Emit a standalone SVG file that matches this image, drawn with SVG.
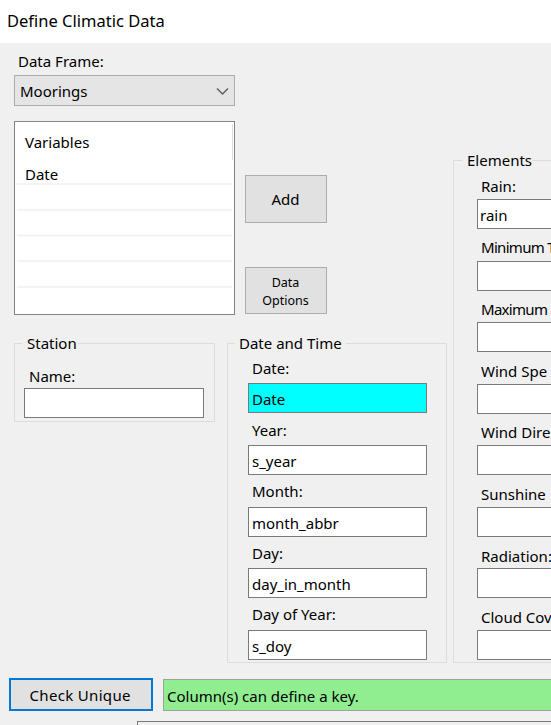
<svg xmlns="http://www.w3.org/2000/svg" width="551" height="725" viewBox="0 0 551 725">
<style>
text{font-family:"Noto Sans","Open Sans",sans-serif;font-size:15px;fill:#000}
.title{font-size:16.5px}
.btn{fill:#e1e1e1;stroke:#adadad;stroke-width:1}
.tb{fill:#fff;stroke:#7a7a7a;stroke-width:1}
.grp{fill:none;stroke:#dcdcdc;stroke-width:1}
.gt{fill:#f0f0f0}
.sep{stroke:#f0f0f0;stroke-width:1.5}
.small{font-size:12.5px}
.tight{letter-spacing:-0.7px}
</style>
<rect x="0" y="0" width="551" height="43" fill="#fff"/>
<rect x="0" y="43" width="551" height="682" fill="#f0f0f0"/>
<text id="title" class="title" x="7" y="27">Define Climatic Data</text>

<g id="dataframe">
<text x="18" y="67">Data Frame:</text>
<rect x="14.5" y="75.5" width="220" height="30" fill="#e5e5e5" stroke="#adadad"/>
<text x="20" y="97">Moorings</text>
<path d="M217 88.5 L222.5 94 L228 88.5" fill="none" stroke="#606060" stroke-width="1.5"/>
</g>

<g id="listbox">
<rect x="14.5" y="121.5" width="220" height="193" fill="#fff" stroke="#828282"/>
<line x1="232.5" y1="124" x2="232.5" y2="160" stroke="#dcdcdc"/>
<text x="25" y="148">Variables</text>
<text x="25" y="180">Date</text>
<line class="sep" x1="17" y1="184" x2="232" y2="184"/>
<line class="sep" x1="17" y1="210" x2="232" y2="210"/>
<line class="sep" x1="17" y1="235.5" x2="232" y2="235.5"/>
<line class="sep" x1="17" y1="261" x2="232" y2="261"/>
<line class="sep" x1="17" y1="287" x2="232" y2="287"/>
</g>

<g id="add">
<rect class="btn" x="245.5" y="175.5" width="81" height="47"/>
<text x="285.5" y="205" text-anchor="middle">Add</text>
</g>
<g id="dataoptions">
<rect class="btn" x="245.5" y="267.5" width="81" height="46"/>
<text class="small" x="285.5" y="287" text-anchor="middle">Data</text>
<text class="small" x="285.5" y="305" text-anchor="middle">Options</text>
</g>

<g id="station">
<rect class="grp" x="14.5" y="343.5" width="200" height="78"/>
<rect class="gt" x="22" y="335" width="56" height="16"/>
<text x="27" y="349">Station</text>
<text x="29" y="382">Name:</text>
<rect class="tb" x="24.5" y="388.5" width="179" height="29"/>
</g>

<g id="datetime">
<rect class="grp" x="227.5" y="343.5" width="219" height="319"/>
<rect class="gt" x="235" y="335" width="111" height="16"/>
<text x="239" y="349">Date and Time</text>
<text x="252" y="374">Date:</text>
<rect x="248.5" y="383.5" width="178" height="29" fill="#00ffff" stroke="#7a7a7a"/>
<text x="252" y="405">Date</text>
<text x="252" y="436">Year:</text>
<rect class="tb" x="248.5" y="445.5" width="178" height="29"/>
<text x="252" y="467">s_year</text>
<text x="252" y="497">Month:</text>
<rect class="tb" x="248.5" y="507.5" width="178" height="29"/>
<text x="252" y="529">month_abbr</text>
<text x="252" y="559">Day:</text>
<rect class="tb" x="248.5" y="568.5" width="178" height="29"/>
<text x="252" y="590">day_in_month</text>
<text x="252" y="620">Day of Year:</text>
<rect class="tb" x="248.5" y="630.5" width="178" height="29"/>
<text x="252" y="652">s_doy</text>
</g>

<g id="elements">
<rect class="grp" x="453.5" y="160.5" width="120" height="502"/>
<rect class="gt" x="462" y="152" width="70" height="16"/>
<text x="467" y="166">Elements</text>
<text x="481" y="192">Rain:</text>
<rect class="tb" x="477.5" y="199.5" width="90" height="29"/>
<text x="480" y="221">rain</text>
<text class="tight" x="481" y="253">Minimum T</text>
<rect class="tb" x="477.5" y="261.5" width="90" height="29"/>
<text class="tight" x="481" y="315">Maximum</text>
<rect class="tb" x="477.5" y="322.5" width="90" height="29"/>
<text x="481" y="377">Wind Spe</text>
<rect class="tb" x="477.5" y="384.5" width="90" height="29"/>
<text x="481" y="438">Wind Dire</text>
<rect class="tb" x="477.5" y="445.5" width="90" height="29"/>
<text x="481" y="500">Sunshine</text>
<rect class="tb" x="477.5" y="507.5" width="90" height="29"/>
<text x="481" y="562">Radiation:</text>
<rect class="tb" x="477.5" y="568.5" width="90" height="29"/>
<text x="481" y="623">Cloud Cov</text>
<rect class="tb" x="477.5" y="630.5" width="90" height="29"/>
</g>

<g id="checkunique">
<rect x="10" y="679" width="142" height="31" fill="#e1e1e1" stroke="#0078d7" stroke-width="2"/>
<text x="80" y="701" text-anchor="middle" textLength="101" lengthAdjust="spacing">Check Unique</text>
</g>
<g id="status">
<rect x="163.5" y="679.5" width="400" height="31" fill="#90ee90" stroke="#a0a0a0"/>
<text x="167" y="702">Column(s) can define a key.</text>
</g>
<g id="bottombox">
<rect x="137.5" y="721.5" width="430" height="20" fill="#f0f0f0" stroke="#7a7a7a"/>
</g>
</svg>
